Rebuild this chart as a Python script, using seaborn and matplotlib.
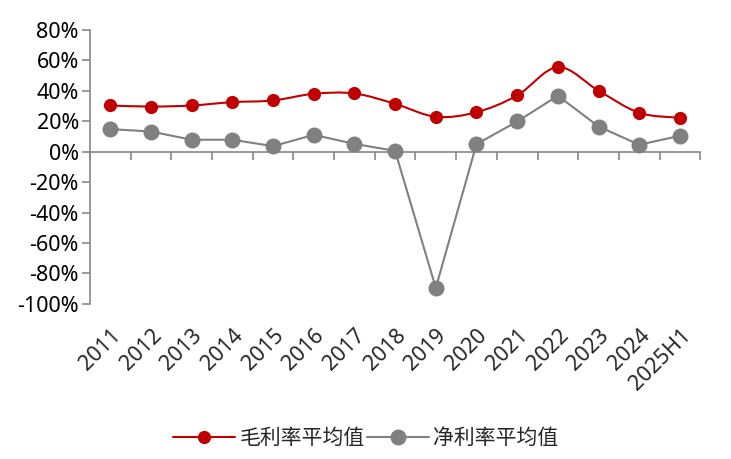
import matplotlib
matplotlib.use("Agg")
import matplotlib.pyplot as plt
from matplotlib.lines import Line2D
from matplotlib.path import Path
from matplotlib.patches import PathPatch
from matplotlib.ticker import FuncFormatter, FixedLocator, NullFormatter
import numpy as np
import pandas as pd
import seaborn as sns

years = ["2011", "2012", "2013", "2014", "2015", "2016", "2017", "2018",
         "2019", "2020", "2021", "2022", "2023", "2024", "2025H1"]
gross_margin = [30.3, 29.6, 30.3, 32.5, 33.6, 38.0, 38.2, 31.4,
                22.9, 25.9, 36.9, 55.5, 40.0, 25.5, 22.2]
net_margin = [14.8, 13.2, 7.8, 7.8, 3.6, 11.0, 5.1, 0.5,
              -89.5, 4.9, 19.8, 36.7, 16.5, 4.5, 10.4]

RED = "#C00000"
GRAY = "#808080"
AXIS = "#888888"
FS = 15
TICK_FS = 15.5

sns.set_theme(style="white")
plt.rcParams["font.family"] = ["Noto Sans", "Noto Sans CJK SC", "DejaVu Sans"]
plt.rcParams["axes.unicode_minus"] = False

df = pd.DataFrame({"pos": np.arange(len(years)), "year": years,
                   "gross": gross_margin, "net": net_margin})

fig = plt.figure(figsize=(7.31, 4.59), dpi=100)
ax = fig.add_axes([0.123, 0.338, 0.835, 0.597])


def smooth_path(xs, ys):
    # Excel-style smoothed line: cubic Bezier segments through the points
    pts = np.column_stack([xs, ys]).astype(float)
    n = len(pts)
    verts = [pts[0]]
    codes = [Path.MOVETO]
    for i in range(n - 1):
        p0 = pts[max(i - 1, 0)]
        p1 = pts[i]
        p2 = pts[i + 1]
        p3 = pts[min(i + 2, n - 1)]
        c1 = p1 + (p2 - p0) / 6.0
        c2 = p2 - (p3 - p1) / 6.0
        verts += [c1, c2, p2]
        codes += [Path.CURVE4] * 3
    return Path(verts, codes)


# net margin: straight segments
sns.lineplot(data=df, x="pos", y="net", ax=ax, color=GRAY, lw=1.5,
             marker="o", markersize=11.5, markeredgewidth=0,
             markerfacecolor=GRAY, zorder=3)

# gross margin: smoothed line
ax.add_patch(PathPatch(smooth_path(df["pos"], df["gross"]), facecolor="none",
                       edgecolor=RED, lw=1.5, zorder=4))
ax.plot(df["pos"], df["gross"], ls="none", marker="o", markersize=9.5,
        markerfacecolor=RED, markeredgewidth=0, zorder=5)

ax.set_xlim(-0.5, len(years) - 0.5)
ax.set_ylim(-100, 80)
ax.set_yticks(np.arange(-100, 81, 20))
ax.yaxis.set_major_formatter(FuncFormatter(lambda v, _: f"{v:.0f}%"))
ax.tick_params(axis="y", which="major", left=True, length=6, width=1.2,
               color=AXIS, labelsize=TICK_FS, pad=2, labelcolor="black")

for side in ["top", "right", "bottom"]:
    ax.spines[side].set_visible(False)
ax.spines["left"].set_color(AXIS)
ax.spines["left"].set_linewidth(1.2)

# category labels at the bottom of the plot
ax.set_xticks(df["pos"])
ax.set_xticklabels(years, rotation=45, ha="right", va="top",
                   rotation_mode="anchor", fontsize=TICK_FS)
ax.tick_params(axis="x", length=0, pad=15)
ax.set_xlabel("")
ax.set_ylabel("")

# zero axis with tick marks between categories
zero_ax = ax.secondary_xaxis(100 / 180)
zero_ax.spines["bottom"].set_color(AXIS)
zero_ax.spines["bottom"].set_linewidth(1.2)
zero_ax.spines["top"].set_color(AXIS)
zero_ax.spines["top"].set_linewidth(1.2)
zero_ax.xaxis.set_major_locator(FixedLocator(np.arange(-0.5, len(years), 1.0)))
zero_ax.xaxis.set_major_formatter(NullFormatter())
zero_ax.tick_params(axis="x", length=6, width=1.2, color=AXIS,
                    labelbottom=False, labeltop=False, direction="in")

handles = [
    Line2D([], [], color=RED, lw=1.5, marker="o", markersize=9.5,
           markeredgewidth=0, label="毛利率平均值"),
    Line2D([], [], color=GRAY, lw=1.5, marker="o", markersize=11.5,
           markeredgewidth=0, label="净利率平均值"),
]
fig.legend(handles=handles, loc="center", bbox_to_anchor=(0.5, 0.045),
           ncol=2, frameon=False, handlelength=3.0,
           handletextpad=0.2, columnspacing=0.1,
           prop={"family": ["Noto Sans CJK SC", "DejaVu Sans"], "size": FS})

fig.savefig("out.png", dpi=100)
